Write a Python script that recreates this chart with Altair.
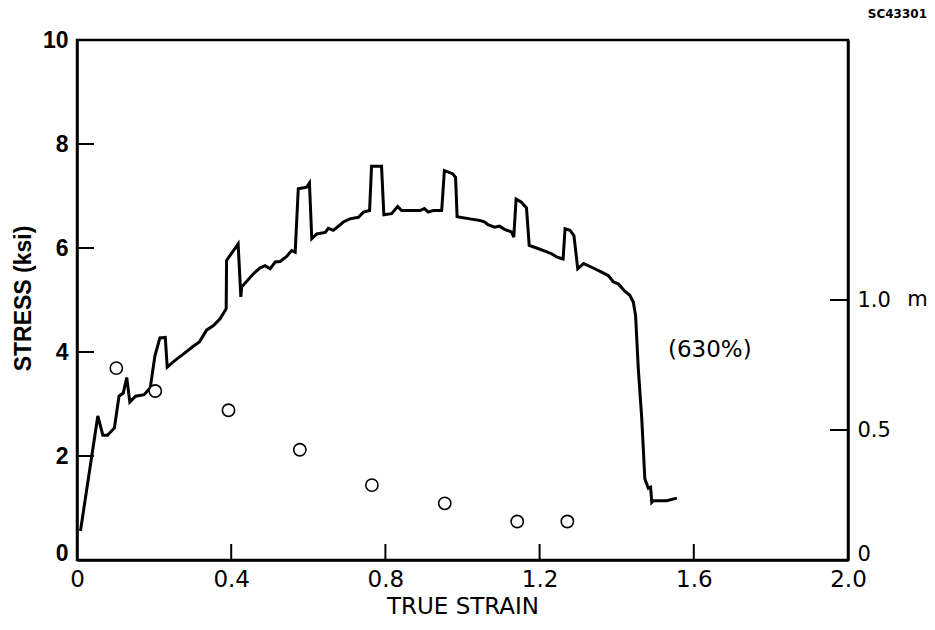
import altair as alt
import pandas as pd

# ---- data ----
strain = [0.009, 0.054, 0.067, 0.079, 0.097, 0.109, 0.120, 0.129, 0.137, 0.152, 0.174, 0.190, 0.202, 0.215, 0.229, 0.234,
          0.256, 0.274, 0.300, 0.318, 0.336, 0.354, 0.371, 0.387, 0.388, 0.418, 0.425, 0.427, 0.457, 0.475, 0.488, 0.501,
          0.514, 0.527, 0.544, 0.557, 0.566, 0.574, 0.596, 0.603, 0.609, 0.622, 0.644, 0.652, 0.665, 0.691, 0.708, 0.730,
          0.743, 0.759, 0.764, 0.790, 0.796, 0.816, 0.832, 0.842, 0.890, 0.901, 0.911, 0.924, 0.946, 0.953, 0.974, 0.982,
          0.986, 1.019, 1.045, 1.058, 1.066, 1.083, 1.096, 1.109, 1.127, 1.133, 1.139, 1.153, 1.166, 1.173, 1.192, 1.214,
          1.231, 1.244, 1.261, 1.266, 1.279, 1.289, 1.299, 1.314, 1.335, 1.357, 1.378, 1.391, 1.404, 1.421, 1.434, 1.443,
          1.449, 1.456, 1.465, 1.473, 1.482, 1.488, 1.491, 1.495, 1.530, 1.556]
stress = [0.56, 2.77, 2.40, 2.40, 2.54, 3.15, 3.21, 3.51, 3.04, 3.15, 3.18, 3.31, 3.92, 4.27, 4.28, 3.71,
          3.85, 3.95, 4.10, 4.20, 4.42, 4.51, 4.64, 4.83, 5.76, 6.08, 5.06, 5.25, 5.50, 5.62, 5.66, 5.60,
          5.73, 5.74, 5.84, 5.95, 5.92, 7.14, 7.17, 7.25, 6.18, 6.27, 6.30, 6.38, 6.34, 6.50, 6.56, 6.59,
          6.69, 6.72, 7.57, 7.57, 6.64, 6.66, 6.80, 6.72, 6.72, 6.76, 6.69, 6.72, 6.72, 7.49, 7.43, 7.36,
          6.60, 6.56, 6.53, 6.50, 6.45, 6.40, 6.42, 6.36, 6.31, 6.21, 6.94, 6.88, 6.77, 6.05, 6.00, 5.94,
          5.89, 5.83, 5.79, 6.37, 6.34, 6.24, 5.60, 5.70, 5.63, 5.55, 5.47, 5.35, 5.31, 5.17, 5.09, 4.96,
          4.70, 3.68, 2.72, 1.56, 1.38, 1.40, 1.11, 1.14, 1.14, 1.19]

m_strain = [0.102, 0.203, 0.393, 0.578, 0.765, 0.954, 1.142, 1.272]
m_value = [0.738, 0.650, 0.576, 0.424, 0.288, 0.218, 0.148, 0.148]

x_ticks = [0, 0.4, 0.8, 1.2, 1.6, 2.0]
stress_ticks = [0, 2, 4, 6, 8, 10]
m_ticks = [0, 0.5, 1.0]

note_label = ["(630%)"]
note_strain = [1.533]
note_stress = [4.04]
code_label = "SC43301"

# ---- tables ----
curve = pd.DataFrame({"i": range(len(strain)), "strain": strain, "stress": stress})
mdf = pd.DataFrame({"strain": m_strain, "m": m_value})
note = pd.DataFrame({"strain": note_strain, "stress": note_stress, "label": note_label})
code = pd.DataFrame({"label": [code_label]})
xt = pd.DataFrame({"v": x_ticks[1:-1]})
st = pd.DataFrame({"v": stress_ticks[1:-1]})
mt = pd.DataFrame({"v": m_ticks[1:]})

W, H = 771, 520
xscale = alt.Scale(domain=[0, 2], nice=False, zero=False)
sscale = alt.Scale(domain=[0, 10], nice=False)
mscale = alt.Scale(domain=[0, 2], nice=False)

x_axis = alt.Axis(
    values=x_ticks,
    labelExpr="datum.value == 0 ? '0' : format(datum.value, '.1f')",
    title="TRUE STRAIN", titleFont="DejaVu Sans", titleFontSize=23, titleFontWeight="normal",
    titleColor="black", titleX=385.5, titleY=46, titleAlign="center", titleBaseline="middle",
    labelFont="DejaVu Sans", labelFontSize=23, labelColor="black", labelPadding=8,
    labelBaseline="top", labelFlush=False, labelOverlap=False,
    ticks=False, grid=False, domainColor="black", domainWidth=2.5,
)
y_axis = alt.Axis(
    values=stress_ticks, format="d",
    title="STRESS (ksi)", titleFont="Liberation Sans", titleFontSize=23, titleFontWeight="bold",
    titleColor="black", titleAngle=270, titleX=-54, titleY=258, titleAlign="center", titleBaseline="middle",
    labelFont="Liberation Sans", labelFontSize=23, labelFontWeight="bold", labelColor="black",
    labelPadding=9, labelFlush=False, labelOverlap=False,
    labelBaseline={"condition": {"test": "datum.value == 0", "value": "alphabetic"}, "value": "middle"},
    ticks=False, grid=False, domainColor="black", domainWidth=2.5,
)
m_axis = alt.Axis(
    orient="right", values=m_ticks,
    labelExpr="datum.value == 0 ? '0' : format(datum.value, '.1f')",
    title="m", titleFont="DejaVu Sans", titleFontSize=21, titleFontWeight="normal", titleColor="black",
    titleAngle=0, titleX=69, titleY=265, titleAlign="center", titleBaseline="alphabetic",
    labelFont="DejaVu Sans", labelFontSize=21, labelColor="black", labelPadding=9,
    labelFlush=False, labelOverlap=False,
    labelBaseline={"condition": {"test": "datum.value == 0", "value": "alphabetic"}, "value": "middle"},
    ticks=False, grid=False, domainColor="black", domainWidth=2.5,
)

line = alt.Chart(curve).mark_line(color="black", strokeWidth=3).encode(
    x=alt.X("strain:Q", scale=xscale, axis=x_axis),
    y=alt.Y("stress:Q", scale=sscale, axis=y_axis),
    order="i:Q",
)
left_ticks = alt.Chart(st).mark_rule(color="black", strokeWidth=2).encode(
    y=alt.Y("v:Q", scale=sscale, axis=None), x=alt.value(0), x2=alt.value(17)
)
bottom_ticks = alt.Chart(xt).mark_rule(color="black", strokeWidth=2).encode(
    x=alt.X("v:Q", scale=xscale, axis=x_axis), y=alt.value(H), y2=alt.value(H - 16)
)
note_text = alt.Chart(note).mark_text(
    align="left", baseline="middle", font="DejaVu Sans", fontSize=23, color="black"
).encode(
    x=alt.X("strain:Q", scale=xscale, axis=x_axis),
    y=alt.Y("stress:Q", scale=sscale, axis=None),
    text="label:N",
)
code_text = alt.Chart(code).mark_text(
    align="right", baseline="middle", font="DejaVu Sans", fontSize=12, fontWeight="bold", color="black"
).encode(x=alt.value(850), y=alt.value(-26), text="label:N")

circles = alt.Chart(mdf).mark_point(
    shape="circle", filled=True, fill="white", stroke="black", strokeWidth=1.6, size=150, opacity=1
).encode(
    x=alt.X("strain:Q", scale=xscale, axis=x_axis),
    y=alt.Y("m:Q", scale=mscale, axis=m_axis),
)
right_ticks = alt.Chart(mt).mark_rule(color="black", strokeWidth=2).encode(
    y=alt.Y("v:Q", scale=mscale, axis=None), x=alt.value(W), x2=alt.value(W - 18)
)

chart = alt.layer(
    line, left_ticks, bottom_ticks, note_text, code_text, circles, right_ticks
).resolve_scale(y="independent").properties(
    width=W, height=H,
    autosize=alt.AutoSizeParams(type="none"),
    padding={"left": 69, "top": 32, "right": 79, "bottom": 62},
    background="white",
).configure_view(stroke="black", strokeWidth=2.5)

chart.save("out.html", embed_options={"renderer": "svg", "actions": False})
